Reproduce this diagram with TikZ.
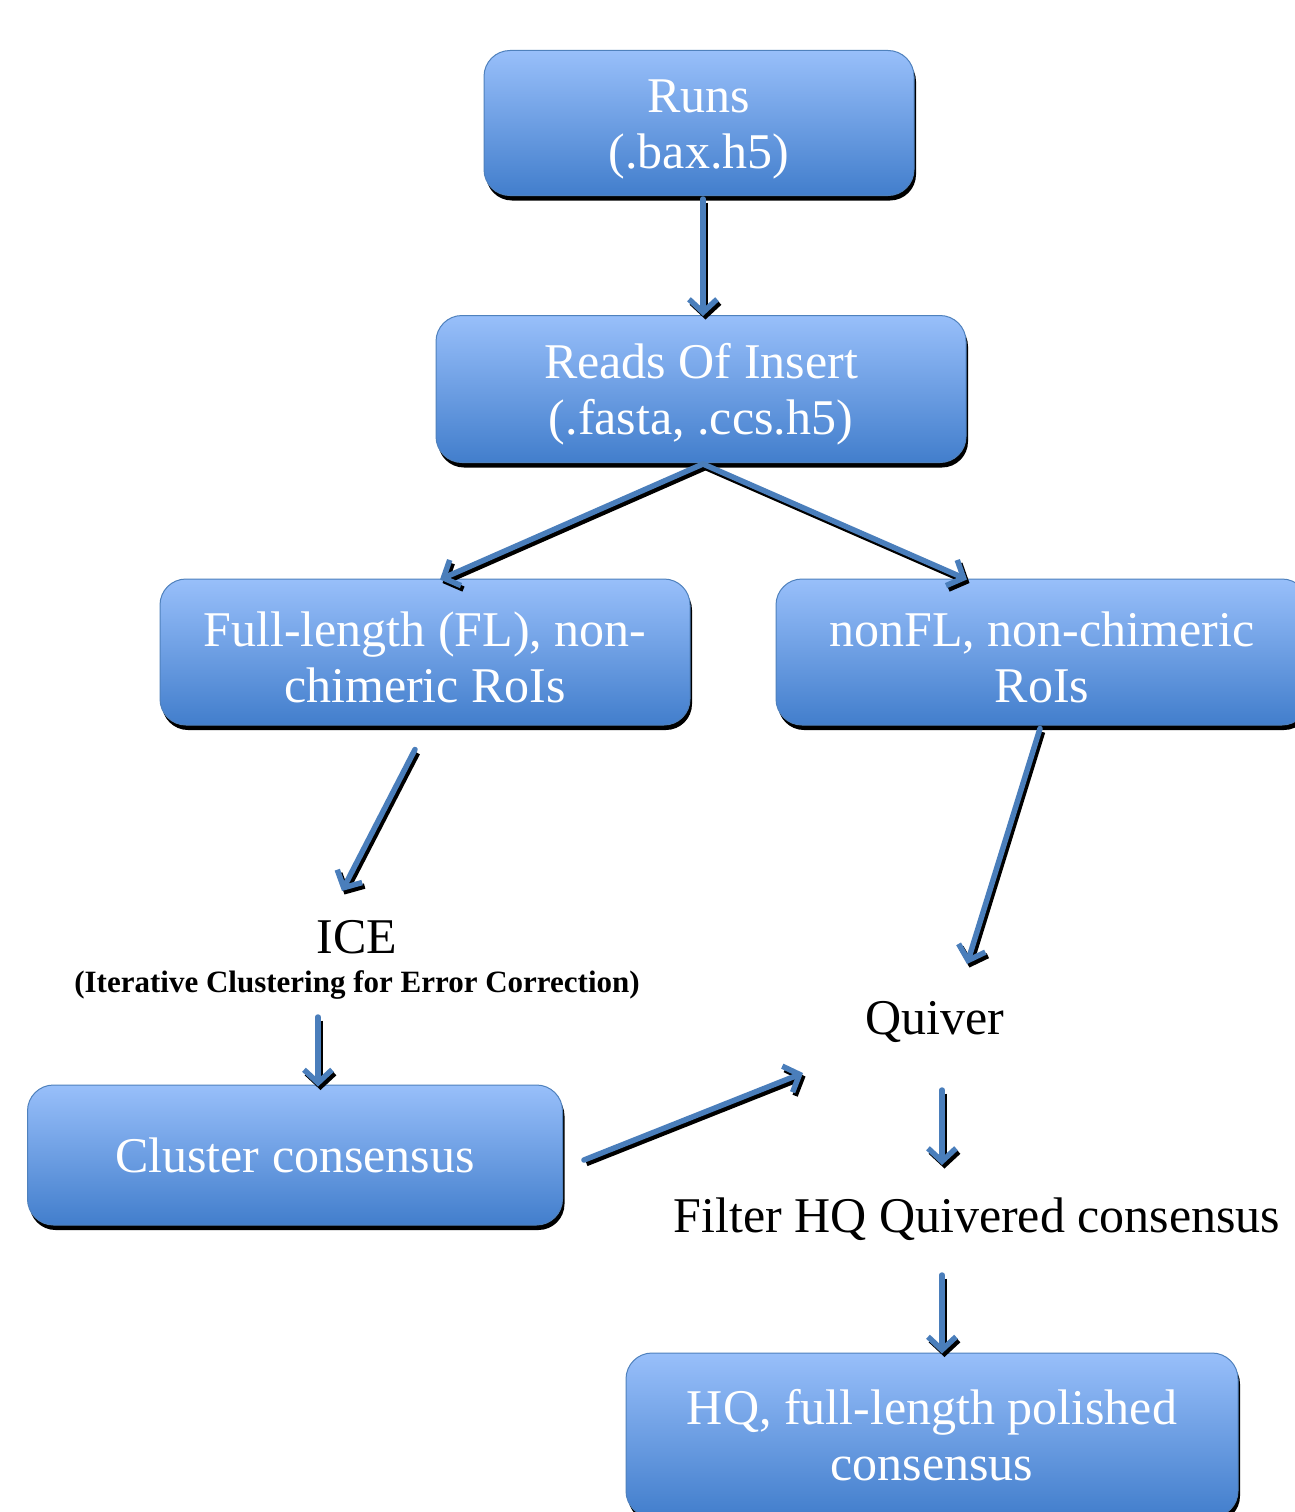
\documentclass[tikz,border=0pt]{standalone}
\usepackage{fontspec}
\setmainfont{Liberation Serif}
\usetikzlibrary{arrows.meta,shadows,calc}
\definecolor{boxtop}{RGB}{152,191,250}
\definecolor{boxbot}{RGB}{66,126,204}
\definecolor{boxline}{RGB}{79,129,189}
\definecolor{arrblue}{RGB}{74,126,187}
\newcommand{\topstrut}{\rule{0pt}{46pt}}
\tikzset{
  flowbox/.style={rectangle, rounded corners=26pt, top color=boxtop, bottom color=boxbot,
    draw=boxline, line width=1pt, text=white, align=center, inner sep=0pt,
    font=\fontsize{50}{56}\selectfont,
    drop shadow={fill=black, opacity=1, shadow xshift=2pt, shadow yshift=-5pt}},
  plainlabel/.style={text=black, inner sep=0pt, align=center, font=\fontsize{50}{56}\selectfont},
  flowarrow/.style={draw=arrblue, line width=5.5pt, line cap=round,
    -{Straight Barb[length=13pt,width=28pt,line width=5.5pt]},
    preaction={draw=black, line width=5.5pt, transform canvas={shift={(2.5pt,-3.5pt)}}}}
}
\begin{document}
\begin{tikzpicture}[x=1pt,y=-1pt]
\useasboundingbox (0,0) rectangle (1294,1512);
\fill[white] (0,0) rectangle (1294,1512);

\node[flowbox, minimum width=430pt, minimum height=145pt] (runs) at (699,123) {\topstrut Runs\\(.bax.h5)};
\node[flowbox, minimum width=530pt, minimum height=147pt] (reads) at (701,389) {\topstrut Reads Of Insert\\(.fasta, .ccs.h5)};
\node[flowbox, minimum width=530pt, minimum height=146pt] (fl) at (425,652) {\topstrut Full-length (FL), non-\\chimeric RoIs};
\node[flowbox, minimum width=532pt, minimum height=146pt] (nonfl) at (1042,652) {\topstrut nonFL, non-chimeric\\RoIs};
\node[flowbox, minimum width=535pt, minimum height=140pt] (cluster) at (295,1155) {Cluster consensus};
\node[flowbox, minimum width=612pt, minimum height=164pt] (hq) at (932,1435) {HQ, full-length polished\\consensus};

\node[plainlabel] (ice) at (357,937) {ICE};
\node[plainlabel, font=\bfseries\fontsize{31}{36}\selectfont] (icesub) at (357,985) {(Iterative Clustering for Error Correction)};
\node[plainlabel] (quiver) at (935,1022) {Quiver};
\node[plainlabel] (filter) at (977,1219) {Filter HQ Quivered consensus};

\draw[flowarrow] ($(runs.south)+(4,3)$) -- ($(reads.north)+(2,1)$);
\draw[flowarrow] ($(reads.south)+(2,1)$) -- ($(fl.north)+(15,1)$);
\draw[flowarrow] ($(reads.south)+(2,1)$) -- ($(nonfl.north)+(-75,1)$);
\draw[flowarrow] ($(fl.south)+(-10,24)$) -- ($(ice)+(-15,-46)$);
\draw[flowarrow] ($(nonfl.south)+(-2,3)$) -- ($(quiver)+(32,-58)$);
\draw[flowarrow] ($(icesub)+(-39,32)$) -- ($(cluster.north)+(23,2)$);
\draw[flowarrow] ($(cluster.east)+(21,5)$) -- ($(quiver)+(-132,51)$);
\draw[flowarrow] ($(quiver)+(7,68)$) -- ($(filter)+(-35,-54)$);
\draw[flowarrow] ($(filter)+(-35,56)$) -- ($(hq.north)+(10,1)$);
\end{tikzpicture}
\end{document}
